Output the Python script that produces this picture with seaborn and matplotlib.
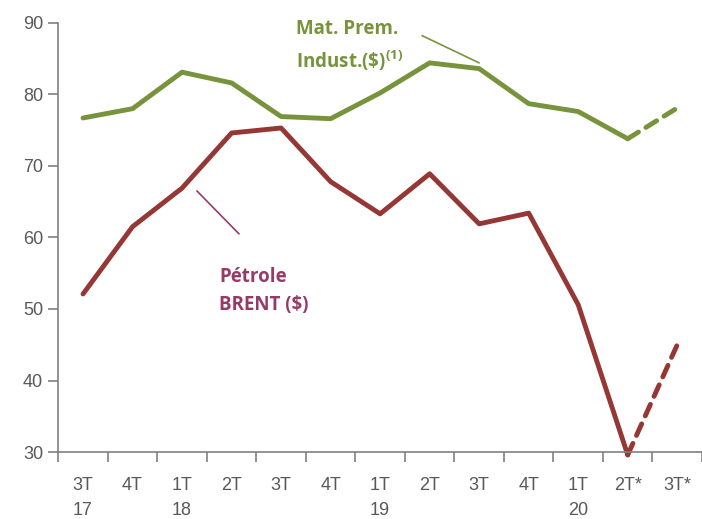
import seaborn as sns
import matplotlib.pyplot as plt
import pandas as pd

quarters = ["3T\n17", "4T", "1T\n18", "2T", "3T", "4T", "1T\n19", "2T", "3T", "4T", "1T\n20", "2T*", "3T*"]
mat_prem = [76.7, 78.0, 83.1, 81.6, 76.9, 76.6, 80.2, 84.4, 83.6, 78.7, 77.6, 73.8, 78.1]
brent = [52.1, 61.5, 66.9, 74.6, 75.3, 67.8, 63.3, 68.9, 61.9, 63.4, 50.6, 29.6, 45.0]
n_actual = 12  # last point is a forecast (dashed)

green = "#77933C"
red = "#953735"
label_red = "#953B6A"
gray = "#808080"

sns.set_style("white")
plt.rcParams["font.family"] = ["Liberation Sans Narrow", "Liberation Sans", "DejaVu Sans"]
plt.rcParams["mathtext.fontset"] = "custom"
plt.rcParams["mathtext.bf"] = "Open Sans:bold"

fig = plt.figure(figsize=(7.02, 5.19), dpi=100)
ax = fig.add_axes([0.083, 0.129, 0.917, 0.827])

pos = list(range(len(quarters)))
df = pd.DataFrame({"pos": pos, "mat": mat_prem, "brent": brent})
hist = df.iloc[:n_actual]
proj = df.iloc[n_actual - 1:]

dash = (0, (2.6, 1.8))
sns.lineplot(data=hist, x="pos", y="mat", color=green, lw=3.5, ax=ax, clip_on=False)
sns.lineplot(data=proj, x="pos", y="mat", color=green, lw=3.5, ax=ax, linestyle=dash,
             dash_capstyle="round", clip_on=False)
sns.lineplot(data=hist, x="pos", y="brent", color=red, lw=3.5, ax=ax, clip_on=False)
sns.lineplot(data=proj, x="pos", y="brent", color=red, lw=3.5, ax=ax, linestyle=dash,
             dash_capstyle="round", clip_on=False)

ax.set_xlim(-0.5, len(quarters) - 0.5)
ax.set_ylim(30, 90)
ax.set_yticks(range(30, 91, 10))
ax.set_xticks(pos)
ax.set_xticklabels(quarters, ha="center", va="top", linespacing=1.6)
ax.set_xticks([p - 0.5 for p in pos] + [len(quarters) - 0.5], minor=True)
ax.tick_params(axis="x", which="major", bottom=True, length=0, pad=18, labelsize=13, colors="#595959")
ax.tick_params(axis="x", which="minor", bottom=True, length=7, width=1.2, color=gray, direction="out")
ax.tick_params(axis="y", left=True, length=7, width=1.2, color=gray, direction="out",
               labelsize=13, labelcolor="#595959", pad=4)
ax.set_xlabel("")
ax.set_ylabel("")

for s in ["top", "right"]:
    ax.spines[s].set_visible(False)
for s in ["left", "bottom"]:
    ax.spines[s].set_color(gray)
    ax.spines[s].set_linewidth(1.2)

ax.text(4.3, 86.8, "Mat. Prem.\nIndust.(\\$)$^{\\mathbf{(1)}}$", color=green, fontsize=13.5, fontweight="bold",
        ha="left", va="center", linespacing=1.5, family=["Open Sans", "DejaVu Sans"])
ax.plot([6.85, 8.0], [88.2, 84.4], color=green, lw=1.2)

ax.text(2.75, 52.5, "Pétrole\nBRENT ($)", color=label_red, fontsize=13.5, fontweight="bold",
        ha="left", va="center", linespacing=1.5, family=["Open Sans", "DejaVu Sans"])
ax.plot([2.3, 3.15], [66.5, 60.5], color=label_red, lw=1.2)

fig.savefig("out.png", dpi=100)
